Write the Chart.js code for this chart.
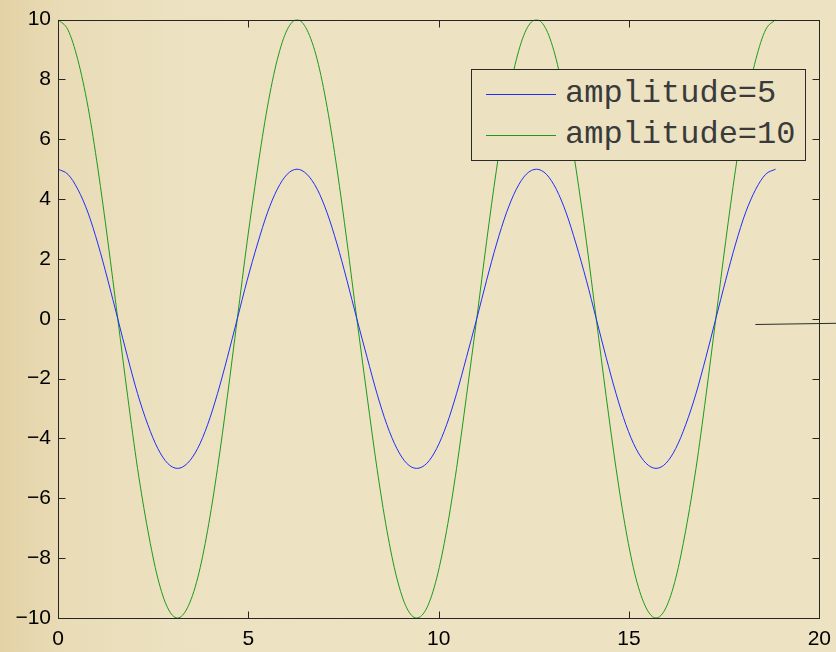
<!DOCTYPE html>
<html>
<head>
<meta charset="UTF-8">
<title>amplitude</title>
<script src="https://cdn.jsdelivr.net/npm/chart.js"></script>
<style>
  html, body { margin: 0; padding: 0; }
  body { width: 836px; height: 652px; overflow: hidden;
         background: linear-gradient(to right, #e4d2a6 0%, #e9dcb7 8%, #ece1c0 20%, #ede3c3 45%, #ede3c3 100%); }
  .wrap { position: relative; width: 836px; height: 652px; }
  .leyenda { position: absolute; left: 471px; top: 69px; width: 333px; height: 90px;
             border: 1px solid #2a2a2a; background: #ece2c2; }
  .fila { position: absolute; left: 14px; height: 40px; display: flex; align-items: center; }
  .fila span.linea { display: inline-block; width: 70px; height: 0; border-top: 1px solid; margin-right: 9px; }
  .fila span.txt { font-family: "Liberation Mono", monospace; font-size: 32px; color: #3a3a3a; line-height: 40px; }
</style>
</head>
<body>
<div class="wrap">
  <canvas id="grafico" width="836" height="652"></canvas>
  <div class="leyenda" id="leyenda"></div>
</div>
<script>
  // sample positions along x (0 .. 6 pi)
  const xs = [0, 0.26, 0.52, 0.79, 1.05, 1.31, 1.57, 1.83, 2.09, 2.36, 2.62, 2.88,
              3.14, 3.40, 3.67, 3.93, 4.19, 4.45, 4.71, 4.97, 5.24, 5.50, 5.76, 6.02,
              6.28, 6.54, 6.81, 7.07, 7.33, 7.59, 7.85, 8.12, 8.38, 8.64, 8.90, 9.16,
              9.42, 9.69, 9.95, 10.21, 10.47, 10.73, 11.00, 11.26, 11.52, 11.78, 12.04, 12.30,
              12.57, 12.83, 13.09, 13.35, 13.61, 13.88, 14.14, 14.40, 14.66, 14.92, 15.18, 15.45,
              15.71, 15.97, 16.23, 16.49, 16.76, 17.02, 17.28, 17.54, 17.80, 18.06, 18.33, 18.59,
              18.85];

  const amp5 = [5, 4.83, 4.33, 3.54, 2.5, 1.29, 0, -1.29, -2.5, -3.54, -4.33, -4.83,
                -5, -4.83, -4.33, -3.54, -2.5, -1.29, 0, 1.29, 2.5, 3.54, 4.33, 4.83,
                5, 4.83, 4.33, 3.54, 2.5, 1.29, 0, -1.29, -2.5, -3.54, -4.33, -4.83,
                -5, -4.83, -4.33, -3.54, -2.5, -1.29, 0, 1.29, 2.5, 3.54, 4.33, 4.83,
                5, 4.83, 4.33, 3.54, 2.5, 1.29, 0, -1.29, -2.5, -3.54, -4.33, -4.83,
                -5, -4.83, -4.33, -3.54, -2.5, -1.29, 0, 1.29, 2.5, 3.54, 4.33, 4.83,
                5];

  const amp10 = [10, 9.66, 8.66, 7.07, 5, 2.59, 0, -2.59, -5, -7.07, -8.66, -9.66,
                 -10, -9.66, -8.66, -7.07, -5, -2.59, 0, 2.59, 5, 7.07, 8.66, 9.66,
                 10, 9.66, 8.66, 7.07, 5, 2.59, 0, -2.59, -5, -7.07, -8.66, -9.66,
                 -10, -9.66, -8.66, -7.07, -5, -2.59, 0, 2.59, 5, 7.07, 8.66, 9.66,
                 10, 9.66, 8.66, 7.07, 5, 2.59, 0, -2.59, -5, -7.07, -8.66, -9.66,
                 -10, -9.66, -8.66, -7.07, -5, -2.59, 0, 2.59, 5, 7.07, 8.66, 9.66,
                 10];

  // short black segment near the right edge
  const trazoX = [18.32, 20.47];
  const trazoY = [-0.19, -0.15];

  const etiquetas = ['amplitude=5', 'amplitude=10'];
  const colores = ['#1f2cff', '#1c9a1c'];

  const puntos = (xv, yv) => xv.map((x, i) => ({ x: x, y: yv[i] }));

  // box around the plot plus inward tick marks
  const marco = {
    id: 'marco',
    afterDraw(chart) {
      const { ctx, chartArea: a, scales } = chart;
      const L = Math.round(a.left) + 0.5, R = Math.round(a.right) + 0.5;
      const T = Math.round(a.top) + 0.5, B = Math.round(a.bottom) + 0.5;
      ctx.save();
      ctx.strokeStyle = '#262626';
      ctx.lineWidth = 1;
      ctx.strokeRect(L, T, R - L, B - T);
      ctx.beginPath();
      scales.y.ticks.forEach(t => {
        const p = Math.round(scales.y.getPixelForValue(t.value)) + 0.5;
        if (p <= T + 1 || p >= B - 1) return;
        ctx.moveTo(L, p); ctx.lineTo(L + 7, p);
        ctx.moveTo(R, p); ctx.lineTo(R - 7, p);
      });
      scales.x.ticks.forEach(t => {
        const p = Math.round(scales.x.getPixelForValue(t.value)) + 0.5;
        if (p <= L + 1 || p >= R - 1) return;
        ctx.moveTo(p, B); ctx.lineTo(p, B - 7);
        ctx.moveTo(p, T); ctx.lineTo(p, T + 7);
      });
      ctx.stroke();
      ctx.restore();
    }
  };

  const menos = v => (v < 0 ? '\u2212' + Math.abs(v) : String(v));

  const chart = new Chart(document.getElementById('grafico').getContext('2d'), {
    type: 'line',
    data: {
      datasets: [
        { label: etiquetas[0], data: puntos(xs, amp5), borderColor: colores[0], borderWidth: 1,
          pointRadius: 0, cubicInterpolationMode: 'monotone', fill: false },
        { label: etiquetas[1], data: puntos(xs, amp10), borderColor: colores[1], borderWidth: 1,
          pointRadius: 0, cubicInterpolationMode: 'monotone', fill: false },
        { label: '', data: puntos(trazoX, trazoY), borderColor: '#2b2b2b', borderWidth: 1,
          pointRadius: 0, fill: false, clip: false }
      ]
    },
    options: {
      responsive: false,
      animation: false,
      layout: { padding: { top: 17, right: 16, left: 0, bottom: 0 } },
      plugins: { legend: { display: false }, tooltip: { enabled: false } },
      scales: {
        x: {
          type: 'linear', min: 0, max: 20,
          ticks: { stepSize: 5, color: '#000', padding: 5, maxRotation: 0,
                   font: { family: 'Liberation Sans', size: 21, lineHeight: 1.5 }, callback: menos },
          grid: { display: false, drawTicks: false }, border: { display: false },
          afterFit(s) { s.height = 34; }
        },
        y: {
          min: -10, max: 10,
          ticks: { stepSize: 2, color: '#000', padding: 7,
                   font: { family: 'Liberation Sans', size: 21 }, callback: menos },
          grid: { display: false, drawTicks: false }, border: { display: false },
          afterFit(s) { s.width = 58; }
        }
      }
    },
    plugins: [marco]
  });

  // legend entries built from the first two datasets
  const caja = document.getElementById('leyenda');
  etiquetas.forEach((txt, i) => {
    const fila = document.createElement('div');
    fila.className = 'fila';
    fila.style.top = (4 + i * 41) + 'px';
    fila.innerHTML = '<span class="linea" style="border-color:' + colores[i] + '"></span><span class="txt">' + txt + '</span>';
    caja.appendChild(fila);
  });
</script>
</body>
</html>
